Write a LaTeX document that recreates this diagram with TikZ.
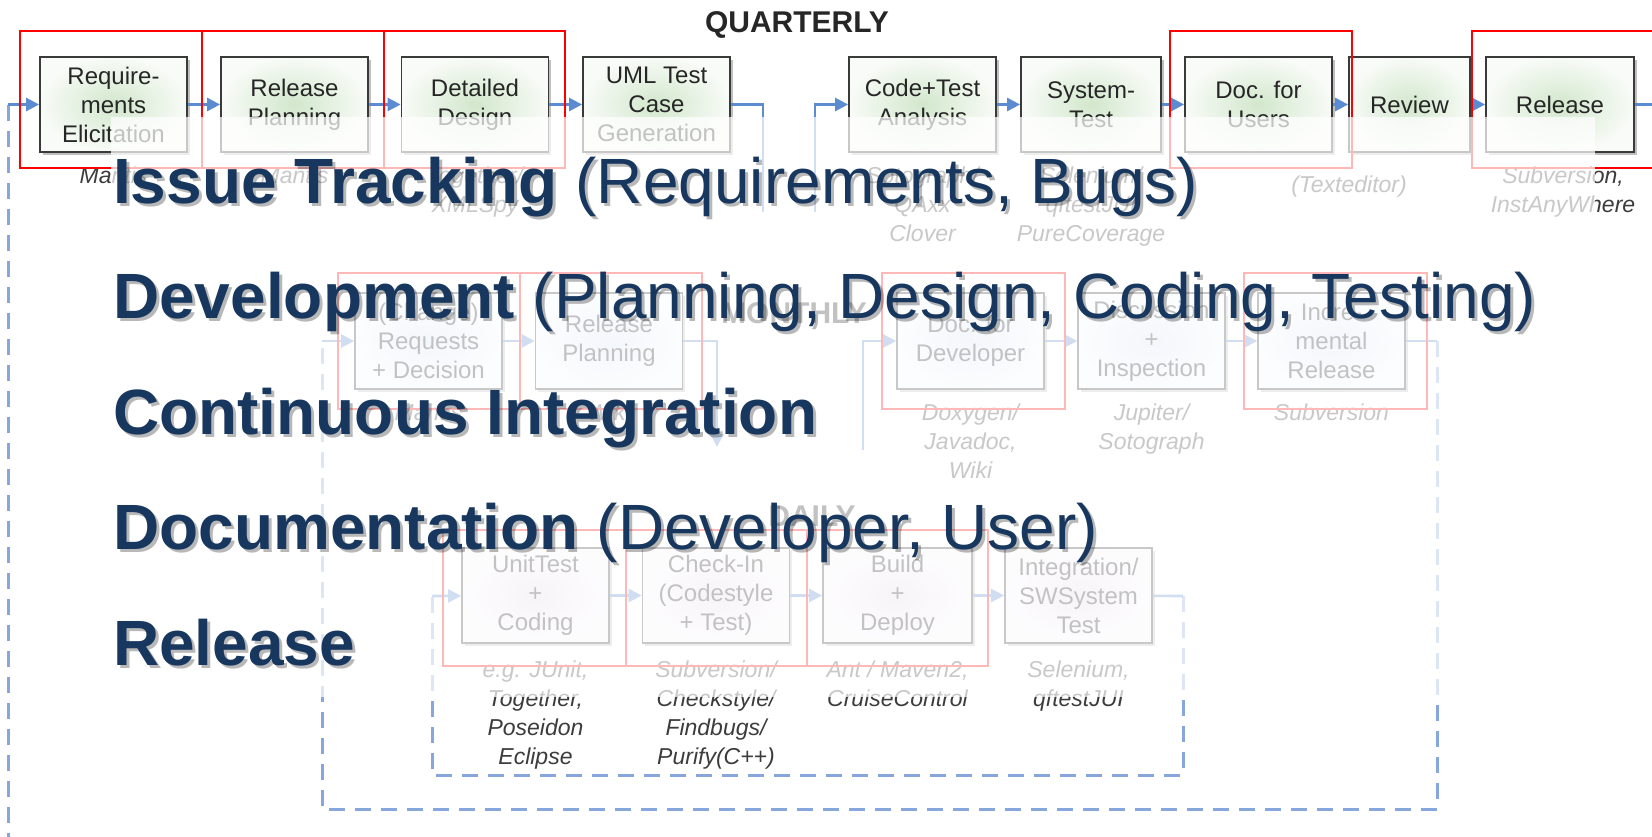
\documentclass[tikz,border=0pt]{standalone}
\usepackage{fontspec}
\setmainfont{Liberation Sans}
\usetikzlibrary{arrows.meta,shadows}

\definecolor{cflow}{HTML}{5B8BD0}
\definecolor{cdash}{HTML}{86A6DC}
\definecolor{cedge}{HTML}{3A3A3A}
\definecolor{cboxtext}{HTML}{262626}
\definecolor{ctool}{HTML}{3C3C3C}
\definecolor{cnavy}{HTML}{17375E}
\definecolor{cqin}{HTML}{D2E7CC}
\definecolor{cqout}{HTML}{F8FBF7}
\definecolor{cmin}{HTML}{D8E2F4}
\definecolor{cmout}{HTML}{F7F9FD}
\definecolor{cdin}{HTML}{E6DAEA}
\definecolor{cdout}{HTML}{FAF7FB}

\tikzset{
  flow/.style={draw=cflow, line width=2.6pt},
  flowto/.style={flow, -{Triangle[length=13pt,width=13pt]}},
  loopline/.style={draw=cdash, line width=3pt, dash pattern=on 16pt off 10pt},
  stage/.style={draw=cedge, line width=1.8pt, minimum width=147pt, minimum height=95pt,
    inner sep=0pt, align=center, text=cboxtext, font=\fontsize{24}{29}\selectfont,
    drop shadow={shadow xshift=2.5pt, shadow yshift=-2.5pt, opacity=0.5}},
  qstage/.style={stage, inner color=cqin, outer color=cqout},
  mstage/.style={stage, inner color=cmin, outer color=cmout},
  dstage/.style={stage, inner color=cdin, outer color=cdout},
  tool/.style={font=\fontsize{23}{29}\selectfont\itshape, text=ctool, align=center,
    inner sep=0pt, anchor=north},
  period/.style={font=\fontsize{30}{30}\selectfont\bfseries, text=cboxtext, inner sep=0pt},
  redframe/.style={draw=red, line width=1.6pt},
  haze/.style={fill=white, opacity=0.72},
  topic/.style={font=\fontsize{64}{64}\selectfont, text=cnavy, inner sep=0pt, anchor=base west},
  topicshade/.style={topic, text=black, opacity=0.28},
}

\begin{document}
\begin{tikzpicture}[x=1pt,y=-1pt]
\useasboundingbox (0,0) rectangle (1652,836);
\fill[white] (0,0) rectangle (1652,836);

% ---------- quarterly cycle ----------
\node[period] (quarterly) at (797,25) {QUARTERLY};
\node[qstage] (q1) at (113.5,104.5) {Require-\\ments\\Elicitation};
\node[qstage] (q2) at (294.5,104.5) {Release\\Planning};
\node[qstage] (q3) at (475,104.5) {Detailed\\Design};
\node[qstage] (q4) at (656.5,104.5) {UML Test\\Case\\Generation};
\node[qstage] (q5) at (922.5,104.5) {Code+Test\\Analysis};
\node[qstage, minimum width=140pt] (q6) at (1091,104.5) {System-\\Test};
\node[qstage] (q7) at (1258.5,104.5) {Doc. for\\Users};
\node[qstage, minimum width=121pt] (q8) at (1409.5,104.5) {Review};
\node[qstage, minimum width=148pt] (q9) at (1560,104.5) {Release};

\coordinate (qloop) at (8,104.5);
\coordinate (qloopend) at (8,840);
\coordinate (qexit) at (1652,104.5);
\coordinate (qdownA) at (763,104.5);
\coordinate (qdownB) at (763,212);
\coordinate (qupA) at (815,212);
\coordinate (qupB) at (815,104.5);

\draw[loopline] (qloop) -- (qloopend);
\draw[flowto] (qloop) -- (q1);
\draw[flowto] (q1) -- (q2);
\draw[flowto] (q2) -- (q3);
\draw[flowto] (q3) -- (q4);
\draw[flow] (q4) -- (qdownA) -- (qdownB);
\draw[flowto] (qupA) -- (qupB) -- (q5);
\draw[flowto] (q5) -- (q6);
\draw[flowto] (q6) -- (q7);
\draw[flowto] (q7) -- (q8);
\draw[flowto] (q8) -- (q9);
\draw[flow] (q9) -- (qexit);

\node[tool] (q1t) at (113.5,167) {Mantis};
\node[tool] (q2t) at (294.5,167) {Mantis};
\node[tool] (q3t) at (475,167) {Together/\\XMLSpy};
\node[tool] (q5t) at (922.5,167) {Sotograph/\\QAxx\\Clover};
\node[tool] (q6t) at (1091,167) {Selenium/\\qftestJUI\\PureCoverage};
\node[tool] (q8t) at (1349,176) {(Texteditor)};
\node[tool] (q9t) at (1563,167) {Subversion,\\InstAnyWhere};

% ---------- monthly cycle ----------
\node[period] (monthly) at (794,313) {MONTHLY};
\node[mstage, minimum height=96pt] (m1) at (428.5,341) {(Change)\\Requests\\+ Decision};
\node[mstage, minimum height=96pt] (m2) at (609,341) {Release\\Planning};
\node[mstage, minimum height=96pt] (m3) at (970.5,341) {Doc. for\\Developer};
\node[mstage, minimum height=96pt] (m4) at (1151.5,341) {Discussion\\+\\Inspection};
\node[mstage, minimum height=96pt] (m5) at (1331.5,341) {Incre-\\mental\\Release};

\coordinate (mnw) at (322,341);
\coordinate (mne) at (1437,341);
\coordinate (mse) at (1437,809);
\coordinate (msw) at (322,809);
\coordinate (mdownA) at (717,341);
\coordinate (mdownB) at (717,447);
\coordinate (mupA) at (863,450);
\coordinate (mupB) at (863,341);

\draw[loopline] (mne) -- (mse) -- (msw) -- (mnw);
\draw[flowto] (mnw) -- (m1);
\draw[flowto] (m1) -- (m2);
\draw[flowto] (m2) -- (mdownA) -- (mdownB);
\draw[flowto] (mupA) -- (mupB) -- (m3);
\draw[flowto] (m3) -- (m4);
\draw[flowto] (m4) -- (m5);
\draw[flow] (m5) -- (mne);

\node[tool] (m1t) at (428.5,404) {Mantis};
\node[tool] (m2t) at (609,404) {Wiki};
\node[tool] (m3t) at (970.5,404) {Doxygen/\\Javadoc,\\Wiki};
\node[tool] (m4t) at (1151.5,404) {Jupiter/\\Sotograph};
\node[tool] (m5t) at (1331.5,404) {Subversion};

% ---------- daily cycle ----------
\node[period] (daily) at (812,516) {DAILY};
\node[dstage] (d1) at (535.5,595.5) {UnitTest\\+\\Coding};
\node[dstage] (d2) at (716,595.5) {Check-In\\(Codestyle\\+ Test)};
\node[dstage, minimum width=149pt] (d3) at (897.5,595.5) {Build\\+\\Deploy};
\node[dstage] (d4) at (1078.5,595.5) {Integration/\\SWSystem\\Test};

\coordinate (dnw) at (432,596);
\coordinate (dne) at (1183,596);
\coordinate (dse) at (1183,775);
\coordinate (dsw) at (432,775);

\draw[loopline] (dne) -- (dse) -- (dsw) -- (dnw);
\draw[flowto] (dnw) -- (d1);
\draw[flowto] (d1) -- (d2);
\draw[flowto] (d2) -- (d3);
\draw[flowto] (d3) -- (d4);
\draw[flow] (d4) -- (dne);

\node[tool] (d1t) at (535.5,661) {e.g. JUnit,\\Together,\\Poseidon\\Eclipse};
\node[tool] (d2t) at (716,661) {Subversion/\\Checkstyle/\\Findbugs/\\Purify(C++)};
\node[tool] (d3t) at (897.5,661) {Ant / Maven2,\\CruiseControl};
\node[tool] (d4t) at (1078.5,661) {Selenium,\\qftestJUI};

% ---------- red tool frames ----------
\draw[redframe] (20,31) rectangle (202,168);
\draw[redframe] (202,31) rectangle (384,168);
\draw[redframe] (384,31) rectangle (565,168);
\draw[redframe] (1170,31) rectangle (1352,168);
\draw[redframe] (1472,31) rectangle (1665,168);
\draw[redframe] (338,273) rectangle (520,409);
\draw[redframe] (520,273) rectangle (702,409);
\draw[redframe] (882,273) rectangle (1065,409);
\draw[redframe] (1244,273) rectangle (1427,409);
\draw[redframe] (443,530) rectangle (626,666);
\draw[redframe] (626,530) rectangle (807,666);
\draw[redframe] (807,530) rectangle (988,666);

% ---------- white veil ----------
\fill[haze] (111,117) rectangle (1595,697);

% ---------- topics ----------
\node[topicshade] (s1) at (116,206) {\textbf{Issue Tracking} (Requirements, Bugs)};
\node[topicshade] (s2) at (116,321.5) {\textbf{Development} (Planning, Design, Coding, Testing)};
\node[topicshade] (s3) at (116,437) {\textbf{Continuous Integration}};
\node[topicshade] (s4) at (116,552.5) {\textbf{Documentation} (Developer, User)};
\node[topicshade] (s5) at (116,668) {\textbf{Release}};
\node[topic] (t1) at (113,203) {\textbf{Issue Tracking} (Requirements, Bugs)};
\node[topic] (t2) at (113,318.5) {\textbf{Development} (Planning, Design, Coding, Testing)};
\node[topic] (t3) at (113,434) {\textbf{Continuous Integration}};
\node[topic] (t4) at (113,549.5) {\textbf{Documentation} (Developer, User)};
\node[topic] (t5) at (113,665) {\textbf{Release}};
\end{tikzpicture}
\end{document}
